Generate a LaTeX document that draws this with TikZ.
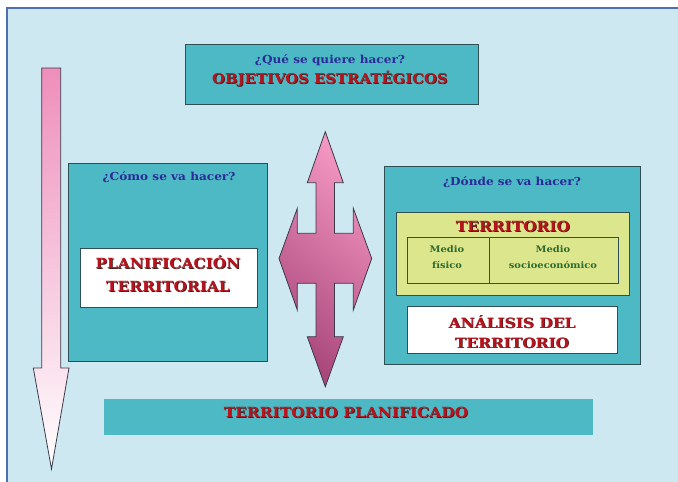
\documentclass[tikz,border=0pt]{standalone}
\usepackage{fontspec}
\setmainfont{DejaVu Serif}
\definecolor{bg}{HTML}{CDE8F0}
\definecolor{tealbox}{HTML}{4DB9C4}
\definecolor{boxline}{HTML}{2F4F55}
\definecolor{yel}{HTML}{DCE68C}
\definecolor{qblue}{HTML}{2B2B98}
\definecolor{tred}{HTML}{B8141E}
\definecolor{tshadow}{HTML}{4A1A1A}
\definecolor{mgreen}{HTML}{2F6A30}
\definecolor{framec}{HTML}{4F6FAF}
\definecolor{pinkL}{HTML}{F497C2}
\definecolor{mauve}{HTML}{A9477B}
\definecolor{pinkA}{HTML}{EE8EBB}
\definecolor{arrowline}{HTML}{3A3A4A}
\newcommand\widetxt[1]{\scalebox{1.1}[1]{#1}}
\newcommand\shd[1]{\makebox[0pt][l]{\hspace{0.7pt}\raisebox{-0.7pt}{\color{tshadow}\widetxt{#1}}}\widetxt{#1}}
\tikzset{
  tbox/.style={draw=boxline, line width=0.8pt, fill=tealbox, inner sep=0pt, outer sep=0pt},
  wbox/.style={draw=boxline, line width=0.8pt, fill=white, inner sep=0pt, outer sep=0pt},
  ybox/.style={draw=boxline, line width=0.8pt, fill=yel, inner sep=0pt, outer sep=0pt},
  cell/.style={draw=boxline, line width=0.6pt, inner sep=0pt, outer sep=0pt},
  bbox/.style={fill=tealbox, inner sep=0pt, outer sep=0pt},
  qtext/.style={text=qblue, font=\fontsize{11}{13}\selectfont\bfseries, inner sep=0pt},
  rtext/.style={text=tred, align=center, inner sep=0pt},
  gtext/.style={text=mgreen, align=center, inner sep=0pt, font=\fontsize{9}{16}\selectfont\bfseries},
  arrowshape/.style={draw=arrowline, line width=0.8pt}
}
\begin{document}
\begin{tikzpicture}[x=1pt,y=-1pt]
\useasboundingbox (0,0) rectangle (678,482);
\fill[white] (0,0) rectangle (678,482);
\fill[bg] (7,8) rectangle (690,490);
\draw[framec, line width=2pt] (7,495) -- (7,8) -- (690,8);

% left arrow
\shade[arrowshape, top color=pinkA, bottom color=white]
  (41.7,68) -- (60.7,68) -- (60.7,368) -- (69,368) -- (51.5,469) -- (33.3,368) -- (41.7,368) -- cycle;

% double arrow
\shade[arrowshape, top color=pinkL, bottom color=mauve, shading angle=-40]
  (325.3,131.7) -- (343.3,182.7) -- (334.5,182.7) -- (334.5,233.3) -- (353.3,233.3) -- (353.3,208.3)
  -- (371.7,258.5) -- (353.3,310) -- (353.3,283.3) -- (334.5,283.3) -- (334.5,336.7) -- (343.3,336.7)
  -- (325.3,386.7) -- (307.3,336.7) -- (316,336.7) -- (316,283.3) -- (297.3,283.3) -- (297.3,310)
  -- (279,258.5) -- (297.3,208.3) -- (297.3,233.3) -- (316,233.3) -- (316,182.7) -- (307.3,182.7) -- cycle;

% boxes
\node[tbox, minimum width=293pt, minimum height=60pt] (top) at (331.5,74) {};
\node[tbox, minimum width=199pt, minimum height=198pt] (leftbox) at (167.5,262) {};
\node[wbox, minimum width=177pt, minimum height=59pt] (plan) at (168.5,277.5) {};
\node[tbox, minimum width=256pt, minimum height=198pt] (rightbox) at (512,265) {};
\node[ybox, minimum width=233pt, minimum height=83pt] (terr) at (512.5,253.5) {};
\node[cell, minimum width=82pt, minimum height=46pt] (fis) at (448,260) {};
\node[cell, minimum width=129pt, minimum height=46pt] (soc) at (553.5,260) {};
\node[wbox, minimum width=210pt, minimum height=47pt] (anal) at (512,329.5) {};
\node[bbox, minimum width=489pt, minimum height=36pt] (bottom) at (348.5,417) {};

% texts
\node[qtext] (q1) at (330,60) {\widetxt{¿Qué se quiere hacer?}};
\node[rtext, font=\fontsize{13.5}{15}\selectfont\bfseries] (obj) at (330,79) {\shd{OBJETIVOS ESTRATÉGICOS}};
\node[qtext] (q2) at (169,177) {\widetxt{¿Cómo se va hacer?}};
\node[rtext, font=\fontsize{14}{23}\selectfont\bfseries] (plantxt) at (168,274) {\shd{PLANIFICACIÓN}\\\shd{TERRITORIAL}};
\node[qtext] (q3) at (512,182) {\widetxt{¿Dónde se va hacer?}};
\node[rtext, font=\fontsize{14}{16}\selectfont\bfseries] (terrtxt) at (513,227) {\shd{TERRITORIO}};
\node[gtext] (fistxt) at (447,257) {\widetxt{Medio}\\\widetxt{físico}};
\node[gtext] (soctxt) at (553,257) {\widetxt{Medio}\\\widetxt{socioeconómico}};
\node[rtext, font=\fontsize{14}{20}\selectfont\bfseries] (analtxt) at (512,332) {\shd{ANÁLISIS DEL}\\\shd{TERRITORIO}};
\node[rtext, font=\fontsize{14}{16}\selectfont\bfseries] (bottxt) at (346,413) {\shd{TERRITORIO PLANIFICADO}};
\end{tikzpicture}
\end{document}
